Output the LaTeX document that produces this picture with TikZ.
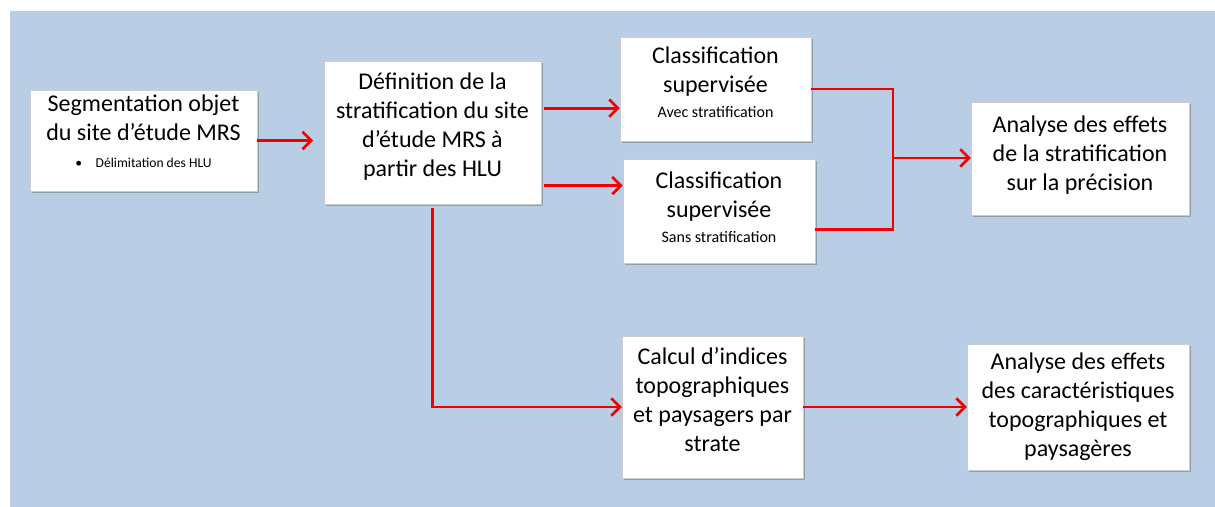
\documentclass[tikz,border=0pt]{standalone}
\usepackage{fontspec}
\setmainfont{Carlito}
\usetikzlibrary{arrows.meta,calc,positioning,shadows}

\definecolor{slideblue}{HTML}{B9CDE5}
\definecolor{flowred}{HTML}{F20000}

\tikzset{
  box/.style={draw=gray!40, line width=0.3pt, fill=white, align=center,
    inner sep=2pt, font=\fontsize{18}{21.8}\selectfont,
    drop shadow={shadow xshift=1.6pt, shadow yshift=-1.6pt, opacity=0.45, fill=gray!80!black}},
  link/.style={draw=flowred, line width=2.2pt},
  arr/.style={link, -{Straight Barb[length=6.5pt,width=13pt,line width=2pt]}}
}
\newcommand{\subtxt}[1]{{\fontsize{12}{14}\selectfont #1}}

\begin{document}
\begin{tikzpicture}[x=0.75pt,y=-0.75pt]
 \useasboundingbox (0,0) rectangle (1215,507);
 \fill[slideblue] (10,11) rectangle (1215,507);

 \node[box, minimum width=227*0.75pt, minimum height=101*0.75pt] (seg) at (143.5,140.5)
   {Segmentation objet\\du site d'étude MRS\\[-2pt]{\fontsize{10.2}{12}\selectfont\textbullet\quad Délimitation des HLU}\\[-8pt]};
 \node[box, minimum width=217*0.75pt, minimum height=143*0.75pt] (def) at (432.5,132.5)
   {Définition de la\\stratification du site\\d'étude MRS à\\partir des HLU\\[-10pt]};

 \node[box, minimum width=191*0.75pt, minimum height=104*0.75pt] (avec) at (715.5,89)
   {Classification\\supervisée\\[-3pt]\subtxt{Avec stratification}\\[-11pt]};
 \node[box, minimum width=192*0.75pt, minimum height=104*0.75pt] (sans) at (719,211)
   {Classification\\supervisée\\[-3pt]\subtxt{Sans stratification}\\[-16pt]};

 \node[box, minimum width=218*0.75pt, minimum height=113*0.75pt] (precision) at (1080,158.5)
   {Analyse des effets\\de la stratification\\sur la précision\\[-14pt]};

 \node[box, minimum width=181*0.75pt, minimum height=142*0.75pt] (calcul) at (712.5,407)
   {Calcul d'indices\\topographiques\\et paysagers par\\strate\\[-11pt]};
 \node[box, minimum width=222*0.75pt, minimum height=126*0.75pt] (topo) at (1078,407)
   {Analyse des effets\\des caractéristiques\\topographiques et\\paysagères};

 \coordinate (join) at (893,158);

 \draw[arr, shorten >=8pt] (seg.east) -- (seg.east -| def.west);
 \draw[arr, shorten <=2pt] ($(def.north east)!0.33!(def.south east)$) -- (avec.west |- {$(def.north east)!0.33!(def.south east)$});
 \draw[arr, shorten <=2pt] ($(def.north east)!0.87!(def.south east)$) -- (sans.west |- {$(def.north east)!0.87!(def.south east)$});

 \draw[link] (avec.east) -| (join);
 \draw[link] ($(sans.north east)!0.68!(sans.south east)$) -| (join);
 \draw[arr] (join) -- (precision.west |- join);

 \draw[arr, shorten <=3pt] (def.south) |- (calcul.west);
 \draw[arr] (calcul) -- (topo);
\end{tikzpicture}
\end{document}
